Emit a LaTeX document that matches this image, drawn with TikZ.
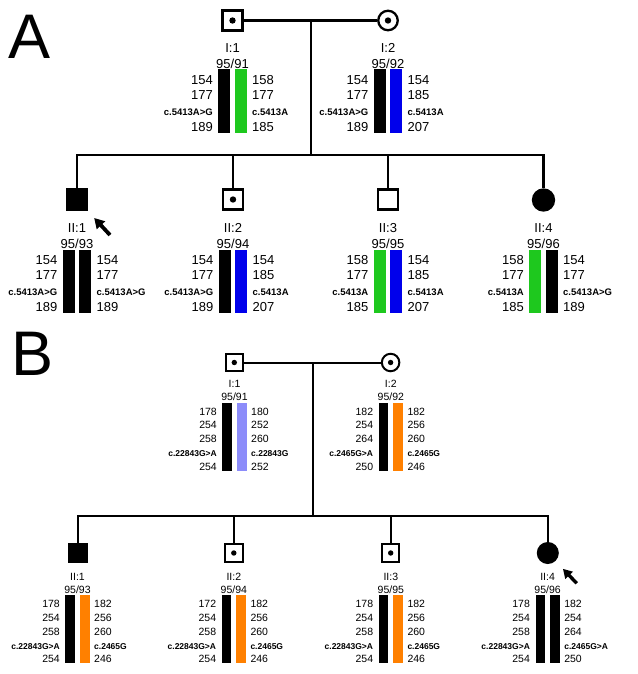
\documentclass[tikz,border=0pt]{standalone}
\usepackage{fontspec}
\setmainfont{Liberation Sans}
\usetikzlibrary{arrows.meta}

\definecolor{hapgreen}{RGB}{30,200,30}
\definecolor{hapblue}{RGB}{0,0,235}
\definecolor{haplilac}{RGB}{140,140,250}
\definecolor{haporange}{RGB}{255,128,0}

\newcommand\mutA{\fontsize{9.5}{15.6}\selectfont\bfseries}
\newcommand\mutB{\fontsize{8.5}{13.9}\selectfont\bfseries}

\begin{document}
\begin{tikzpicture}[
    x=1pt, y=-1pt,
    panel/.style={font=\fontsize{63}{63}\selectfont,inner sep=0pt,anchor=base west},
    line/.style={line width=2.3pt},
    lineB/.style={line width=2pt},
    male/.style={rectangle,draw,line width=2.3pt,minimum size=20pt,inner sep=0pt},
    female/.style={circle,draw,line width=2.3pt,minimum size=19.5pt,inner sep=0pt},
    maleB/.style={rectangle,draw,line width=2pt,minimum size=17.5pt,inner sep=0pt},
    femaleB/.style={circle,draw,line width=2pt,minimum size=17.5pt,inner sep=0pt},
    affected/.style={fill=black},
    carrier/.style={path picture={\fill (path picture bounding box.center) circle (3.2pt);}},
    carrierB/.style={path picture={\fill (path picture bounding box.center) circle (2.7pt);}},
    barA/.style={minimum width=12.3pt,minimum height=63pt,inner sep=0pt,anchor=north},
    barB/.style={minimum width=9.5pt,minimum height=68pt,inner sep=0pt,anchor=north},
    idA/.style={font=\fontsize{13}{15.6}\selectfont,inner sep=0pt,anchor=base},
    idB/.style={font=\fontsize{10.5}{13.9}\selectfont,inner sep=0pt,anchor=base},
    leftA/.style={font=\fontsize{13}{15.6}\selectfont,inner sep=0pt,align=right,anchor=north east},
    rightA/.style={font=\fontsize{13}{15.6}\selectfont,inner sep=0pt,align=left,anchor=north west},
    leftB/.style={font=\fontsize{10.5}{13.9}\selectfont,inner sep=0pt,align=right,anchor=north east},
    rightB/.style={font=\fontsize{10.5}{13.9}\selectfont,inner sep=0pt,align=left,anchor=north west},
    proband/.style={-{Triangle[length=10pt,width=11pt]},line width=3.8pt},
    probandB/.style={-{Triangle[length=9pt,width=10pt]},line width=3.4pt}
]
\useasboundingbox (0,0) rectangle (637,674);

% Panel letters
\node[panel] (labA) at (8.3,58.3) {A};
\node[panel] (labB) at (11.4,375) {B};

%%% Panel A
% Parents
\node[male,carrier] (I1A) at (232.5,20.5) {};
\node[female,carrier] (I2A) at (388,20.5) {};
\coordinate (mA) at (311,20.5);
\coordinate (sA) at (311,155);
\draw[line] (I1A) -- (I2A);
\draw[line] (mA) -- (sA);

% Children
\node[male,affected] (II1A) at (77,199.5) {};
\node[male,carrier] (II2A) at (233,199.5) {};
\node[male] (II3A) at (388,199.5) {};
\node[female,affected,minimum size=21pt] (II4A) at (543.5,200) {};
\draw[line] (sA) -| (II1A);
\draw[line] (sA) -| (II2A);
\draw[line] (sA) -| (II3A);
\draw[line] (sA) -| (II4A);

% Proband
\coordinate (arA) at (110,235);
\draw[proband,shorten >=10pt] (arA) -- (II1A);

% I:1
\node[idA] (I1Aid) at (232.5,52.3) {I:1};
\node[idA] (I1Amk) at (232.5,68.3) {95/91};
\node[barA,fill=black] (I1Aa) at (224.2,69.3) {};
\node[barA,fill=hapgreen] (I1Ab) at (240.8,69.3) {};
\node[leftA] (I1Al) at (213,75.1) {154\\177\\{\mutA c.5413A>G}\\189};
\node[rightA] (I1Ar) at (252,75.1) {158\\177\\{\mutA c.5413A}\\185};

% I:2
\node[idA] (I2Aid) at (388,52.3) {I:2};
\node[idA] (I2Amk) at (388,68.3) {95/92};
\node[barA,fill=black] (I2Aa) at (379.7,69.3) {};
\node[barA,fill=hapblue] (I2Ab) at (396.3,69.3) {};
\node[leftA] (I2Al) at (368.5,75.1) {154\\177\\{\mutA c.5413A>G}\\189};
\node[rightA] (I2Ar) at (407.5,75.1) {154\\185\\{\mutA c.5413A}\\207};

% II:1
\node[idA] (II1Aid) at (77,232.3) {II:1};
\node[idA] (II1Amk) at (77,248.3) {95/93};
\node[barA,fill=black] (II1Aa) at (68.7,249.3) {};
\node[barA,fill=black] (II1Ab) at (85.3,249.3) {};
\node[leftA] (II1Al) at (57.5,255.1) {154\\177\\{\mutA c.5413A>G}\\189};
\node[rightA] (II1Ar) at (96.5,255.1) {154\\177\\{\mutA c.5413A>G}\\189};

% II:2
\node[idA] (II2Aid) at (233,232.3) {II:2};
\node[idA] (II2Amk) at (233,248.3) {95/94};
\node[barA,fill=black] (II2Aa) at (224.7,249.3) {};
\node[barA,fill=hapblue] (II2Ab) at (241.3,249.3) {};
\node[leftA] (II2Al) at (213.5,255.1) {154\\177\\{\mutA c.5413A>G}\\189};
\node[rightA] (II2Ar) at (252.5,255.1) {154\\185\\{\mutA c.5413A}\\207};

% II:3
\node[idA] (II3Aid) at (388,232.3) {II:3};
\node[idA] (II3Amk) at (388,248.3) {95/95};
\node[barA,fill=hapgreen] (II3Aa) at (379.7,249.3) {};
\node[barA,fill=hapblue] (II3Ab) at (396.3,249.3) {};
\node[leftA] (II3Al) at (368.5,255.1) {158\\177\\{\mutA c.5413A}\\185};
\node[rightA] (II3Ar) at (407.5,255.1) {154\\185\\{\mutA c.5413A}\\207};

% II:4
\node[idA] (II4Aid) at (543.5,232.3) {II:4};
\node[idA] (II4Amk) at (543.5,248.3) {95/96};
\node[barA,fill=hapgreen] (II4Aa) at (535.2,249.3) {};
\node[barA,fill=black] (II4Ab) at (551.8,249.3) {};
\node[leftA] (II4Al) at (524,255.1) {158\\177\\{\mutA c.5413A}\\185};
\node[rightA] (II4Ar) at (563,255.1) {154\\177\\{\mutA c.5413A>G}\\189};

%%% Panel B
% Parents
\node[maleB,carrierB] (I1B) at (234.3,362.5) {};
\node[femaleB,carrierB] (I2B) at (390.6,362.5) {};
\coordinate (mB) at (313.3,362.5);
\coordinate (sB) at (313.3,515.7);
\draw[lineB] (I1B) -- (I2B);
\draw[lineB] (mB) -- (sB);

% Children
\node[maleB,affected] (II1B) at (77.8,553) {};
\node[maleB,carrierB] (II2B) at (233.8,553) {};
\node[maleB,carrierB] (II3B) at (390.7,553) {};
\node[femaleB,affected,minimum size=20pt] (II4B) at (547.8,553) {};
\draw[lineB] (sB) -| (II1B);
\draw[lineB] (sB) -| (II2B);
\draw[lineB] (sB) -| (II3B);
\draw[lineB] (sB) -| (II4B);

% Proband
\coordinate (arB) at (576.7,583.3);
\draw[probandB,shorten >=10.9pt] (arB) -- (II4B);

% I:1
\node[idB] (I1Bid) at (234.5,387.3) {I:1};
\node[idB] (I1Bmk) at (234.5,400.5) {95/91};
\node[barB,fill=black] (I1Ba) at (227.2,402.7) {};
\node[barB,fill=haplilac] (I1Bb) at (241.8,402.7) {};
\node[leftB] (I1Bl) at (217,407.5) {178\\254\\258\\{\mutB c.22843G>A}\\254};
\node[rightB] (I1Br) at (251,407.5) {180\\252\\260\\{\mutB c.22843G}\\252};

% I:2
\node[idB] (I2Bid) at (390.8,387.3) {I:2};
\node[idB] (I2Bmk) at (390.8,400.5) {95/92};
\node[barB,fill=black] (I2Ba) at (383.5,402.7) {};
\node[barB,fill=haporange] (I2Bb) at (398.1,402.7) {};
\node[leftB] (I2Bl) at (373.3,407.5) {182\\254\\264\\{\mutB c.2465G>A}\\250};
\node[rightB] (I2Br) at (407.3,407.5) {182\\256\\260\\{\mutB c.2465G}\\246};

% II:1
\node[idB] (II1Bid) at (77.5,580) {II:1};
\node[idB] (II1Bmk) at (77.5,593.3) {95/93};
\node[barB,fill=black] (II1Ba) at (70.2,595) {};
\node[barB,fill=haporange] (II1Bb) at (84.8,595) {};
\node[leftB] (II1Bl) at (60,599.8) {178\\254\\258\\{\mutB c.22843G>A}\\254};
\node[rightB] (II1Br) at (94,599.8) {182\\256\\260\\{\mutB c.2465G}\\246};

% II:2
\node[idB] (II2Bid) at (233.8,580) {II:2};
\node[idB] (II2Bmk) at (233.8,593.3) {95/94};
\node[barB,fill=black] (II2Ba) at (226.5,595) {};
\node[barB,fill=haporange] (II2Bb) at (241.1,595) {};
\node[leftB] (II2Bl) at (216.3,599.8) {172\\254\\258\\{\mutB c.22843G>A}\\254};
\node[rightB] (II2Br) at (250.3,599.8) {182\\256\\260\\{\mutB c.2465G}\\246};

% II:3
\node[idB] (II3Bid) at (390.8,580) {II:3};
\node[idB] (II3Bmk) at (390.8,593.3) {95/95};
\node[barB,fill=black] (II3Ba) at (383.5,595) {};
\node[barB,fill=haporange] (II3Bb) at (398.1,595) {};
\node[leftB] (II3Bl) at (373.3,599.8) {178\\254\\258\\{\mutB c.22843G>A}\\254};
\node[rightB] (II3Br) at (407.3,599.8) {182\\256\\260\\{\mutB c.2465G}\\246};

% II:4
\node[idB] (II4Bid) at (547.6,580) {II:4};
\node[idB] (II4Bmk) at (547.6,593.3) {95/96};
\node[barB,fill=black] (II4Ba) at (540.3,595) {};
\node[barB,fill=black] (II4Bb) at (554.9,595) {};
\node[leftB] (II4Bl) at (530.1,599.8) {178\\254\\258\\{\mutB c.22843G>A}\\254};
\node[rightB] (II4Br) at (564.1,599.8) {182\\254\\264\\{\mutB c.2465G>A}\\250};

\end{tikzpicture}
\end{document}
